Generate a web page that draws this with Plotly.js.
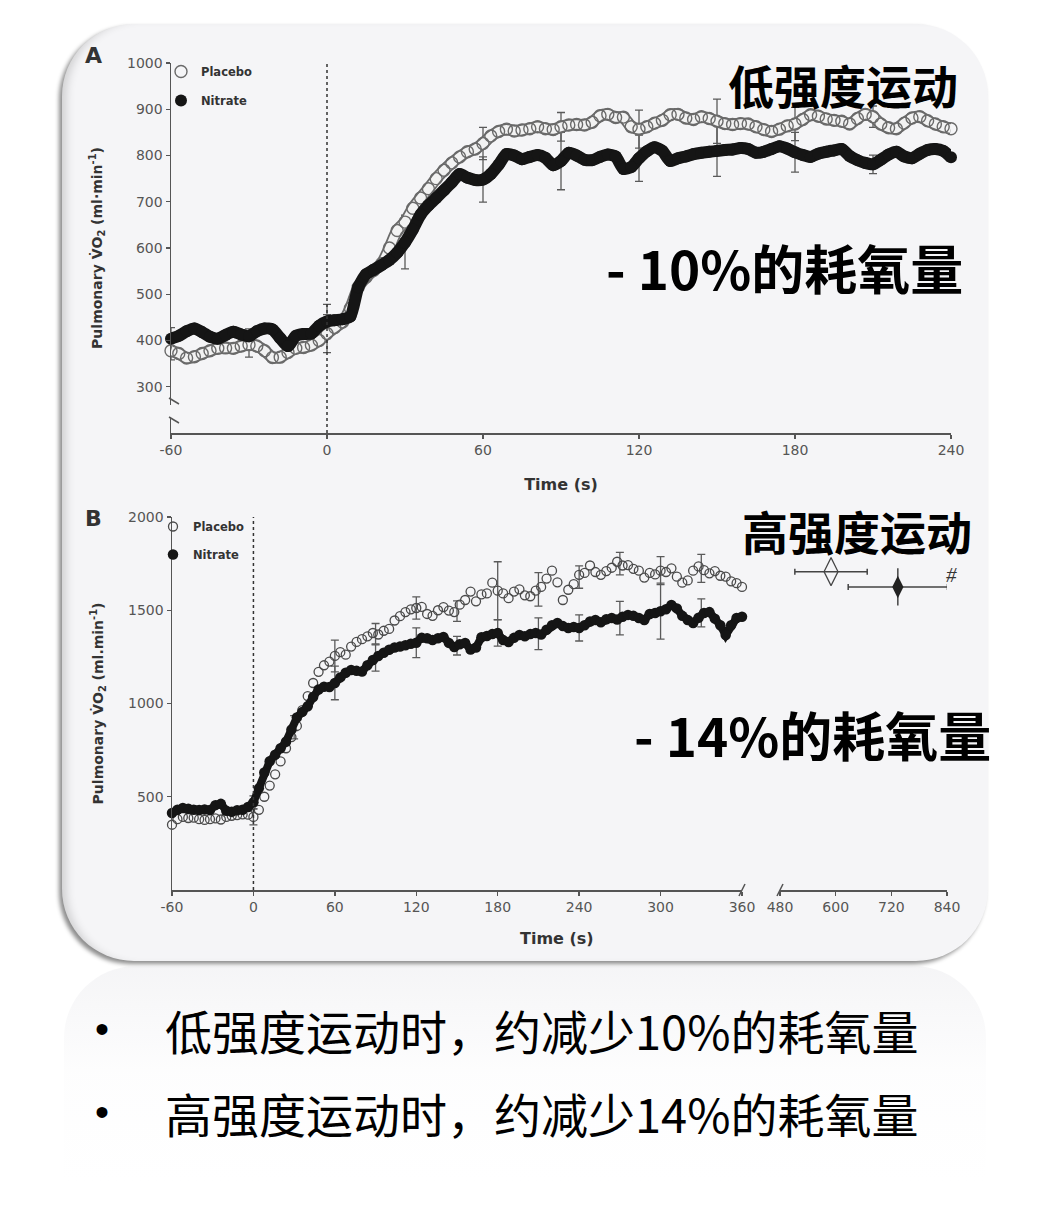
<!DOCTYPE html>
<html>
<head>
<meta charset="utf-8">
<script src="https://cdn.plot.ly/plotly-3.0.1.min.js"></script>
<style>
html,body{margin:0;padding:0;background:#ffffff;width:1038px;height:1207px;overflow:hidden;}
#card{position:absolute;left:62px;top:24px;width:926px;height:937px;border-radius:72px;background:#f5f5f7;
  box-shadow:-3px 3px 4px rgba(0,0,0,0.45), inset 10px 0 10px -6px rgba(0,0,0,0.16);}
#refl{position:absolute;left:64px;top:966px;width:922px;height:240px;border-radius:72px 72px 0 0;
  background:linear-gradient(to bottom, rgba(230,230,234,0.4), rgba(245,245,247,0.18) 45%, rgba(255,255,255,0) 90%);}
#chart{position:absolute;left:0;top:0;width:1038px;height:1207px;}
</style>
</head>
<body>
<div id="card"></div>
<div id="refl"></div>
<div id="chart"></div>
<script>
// ---------------- Panel A (low intensity): t = -60 ... 240 s, every 3 s ----------------
const timeStartA = -60, timeStepA = 3;
const placeboA = [
 378,372,362,365,372,378,383,384,383,388,
 391,388,378,363,364,374,383,385,390,400,
 415,428,440,470,515,537,552,566,600,638,
 656,686,708,728,750,768,784,797,808,814,
 826,842,852,857,853,855,858,862,858,856,
 862,866,867,866,872,886,889,882,883,862,
 857,862,870,876,888,889,881,878,884,880,
 874,869,867,869,868,862,856,852,857,864,
 868,878,888,885,879,876,874,868,880,889,
 884,868,860,858,870,881,884,875,868,862,
 858];
const nitrateA = [
 404,410,420,426,418,408,404,412,419,413,
 409,420,426,424,405,388,410,414,415,432,
 441,444,446,452,515,543,553,563,574,590,
 612,640,672,692,708,725,742,760,752,747,
 748,760,780,803,800,792,797,801,795,779,
 788,806,800,791,790,797,802,798,771,775,
 794,809,818,810,788,794,798,803,806,808,
 810,812,813,816,814,806,808,814,820,815,
 807,801,797,804,808,811,814,799,790,784,
 781,791,802,808,798,794,804,812,814,810,
 796];
const errTimesA   = [-60,-30,0,30,60,90,120,150,180,210];
const errPlaceboA = [20,27,41,15,35,31,41,48,36,23];
const errNitrateA = [24,16,37,57,49,62,50,55,43,20];
const xTicksA = [-60,0,60,120,180,240];
const yTicksA = [300,400,500,600,700,800,900,1000];

// ---------------- Panel B (high intensity): t = -60 ... 360 s, every 4 s ----------------
const timeStartB = -60, timeStepB = 4;
const placeboB = [
 350,380,392,386,388,380,376,380,384,378,
 392,398,402,405,404,392,430,500,560,620,
 690,760,820,880,965,1040,1110,1170,1205,1225,
 1255,1275,1262,1305,1330,1345,1360,1378,1370,1390,
 1400,1445,1468,1490,1505,1512,1518,1480,1470,1500,
 1517,1498,1490,1530,1555,1600,1548,1585,1590,1648,
 1605,1590,1565,1600,1612,1580,1575,1605,1625,1670,
 1712,1650,1555,1610,1640,1690,1700,1740,1705,1690,
 1710,1728,1760,1740,1742,1722,1712,1675,1700,1692,
 1712,1705,1725,1680,1648,1660,1712,1735,1715,1698,
 1710,1685,1680,1655,1645,1625];
const nitrateB = [
 413,430,440,436,430,429,432,429,455,462,
 425,420,428,430,445,470,545,630,690,725,
 760,795,860,925,955,985,1035,1075,1090,1088,
 1110,1140,1165,1180,1175,1172,1205,1233,1255,1272,
 1288,1300,1305,1312,1320,1326,1352,1350,1340,1350,
 1357,1325,1303,1318,1324,1290,1300,1355,1362,1372,
 1378,1340,1330,1352,1367,1360,1372,1378,1370,1395,
 1420,1432,1415,1405,1410,1405,1420,1440,1448,1435,
 1452,1458,1450,1465,1475,1470,1458,1448,1480,1485,
 1495,1505,1528,1510,1470,1448,1432,1460,1485,1490,
 1455,1420,1367,1420,1458,1465];
const errTimesB         = [0,30,60,90,120,150,180,210,240,270,300,330];
const errCenterPlaceboB = [392,850,1255,1374,1512,1495,1605,1612,1678,1750,1712,1725];
const errPlaceboB       = [43,40,85,55,60,55,155,90,60,60,75,75];
const errCenterNitrateB = [470,895,1110,1244,1326,1310,1378,1374,1405,1458,1495,1486];
const errNitrateB       = [35,40,90,70,80,50,70,85,70,90,150,75];
// end-exercise points (time to exhaustion, peak VO2)
const ttePlaceboTime = [590], ttePlaceboVO2 = [1707], ttePlaceboTimeErr = [78];
const tteNitrateTime = [734], tteNitrateVO2 = [1625], tteNitrateTimeErr = [107], tteNitrateVO2Err = [100];
const xTicksB  = [-60,0,60,120,180,240,300,360];
const xTicksB2 = [480,600,720,840];
const yTicksB  = [500,1000,1500,2000];

// ---------------- layout helpers ----------------
const W = 1038, H = 1207;
const fx = p => p / W;
const fy = p => 1 - p / H;
const GRAY = '#555';
const BASEFONT = 'DejaVu Sans, Arial, sans-serif';
const CJK = 'Noto Sans CJK SC, sans-serif';

const errStyle = (arr) => ({type:'data', array: arr, visible:true, color:'#5a5a5a', thickness:1.3, width:4});
const hidden = {size:1, opacity:0};

const traces = [
  // Panel A error bars
  {x: errTimesA, y: errTimesA.map(t => placeboA[(t - timeStartA) / timeStepA]), xaxis:'x', yaxis:'y',
   mode:'markers', marker:hidden, error_y: errStyle(errPlaceboA), showlegend:false, hoverinfo:'skip', cliponaxis:false},
  {x: errTimesA, y: errTimesA.map(t => nitrateA[(t - timeStartA) / timeStepA]), xaxis:'x', yaxis:'y',
   mode:'markers', marker:hidden, error_y: errStyle(errNitrateA), showlegend:false, hoverinfo:'skip', cliponaxis:false},
  // Panel A placebo: tube outline + rings
  {y: placeboA, x0: timeStartA, dx: timeStepA, xaxis:'x', yaxis:'y', mode:'lines',
   line:{color:'#6a6a6a', width:12, shape:'spline', smoothing:0.6}, showlegend:false, hoverinfo:'skip', cliponaxis:false},
  {y: placeboA, x0: timeStartA, dx: timeStepA, xaxis:'x', yaxis:'y', mode:'lines',
   line:{color:'#f2f2f2', width:8.5, shape:'spline', smoothing:0.6}, showlegend:false, hoverinfo:'skip', cliponaxis:false},
  {name:'Placebo', y: placeboA, x0: timeStartA, dx: timeStepA, xaxis:'x', yaxis:'y', type:'scatter', mode:'markers',
   marker:{symbol:'circle-open', size:12, color:'#6a6a6a', line:{width:1.4}}, legend:'legend', legendgroup:'pa', cliponaxis:false},
  // Panel A nitrate: thick band
  {y: nitrateA, x0: timeStartA, dx: timeStepA, xaxis:'x', yaxis:'y', mode:'lines',
   line:{color:'#151515', width:12, shape:'spline', smoothing:0.6}, showlegend:false, hoverinfo:'skip', cliponaxis:false},
  {name:'Nitrate', y: nitrateA, x0: timeStartA, dx: timeStepA, xaxis:'x', yaxis:'y', type:'scatter', mode:'markers',
   marker:{symbol:'circle', size:12, color:'#151515'}, legend:'legend', legendgroup:'na', cliponaxis:false},

  // Panel B error bars
  {x: errTimesB, y: errCenterPlaceboB, xaxis:'x2', yaxis:'y2', mode:'markers', marker:hidden,
   error_y: errStyle(errPlaceboB), showlegend:false, hoverinfo:'skip', cliponaxis:false},
  {x: errTimesB, y: errCenterNitrateB, xaxis:'x2', yaxis:'y2', mode:'markers', marker:hidden,
   error_y: errStyle(errNitrateB), showlegend:false, hoverinfo:'skip', cliponaxis:false},
  // Panel B series
  {name:'Placebo', y: placeboB, x0: timeStartB, dx: timeStepB, xaxis:'x2', yaxis:'y2', type:'scatter', mode:'markers',
   marker:{symbol:'circle-open', size:9, color:'#4a4a4a', line:{width:1.3}}, legend:'legend2', legendgroup:'pb', cliponaxis:false},
  {y: nitrateB, x0: timeStartB, dx: timeStepB, xaxis:'x2', yaxis:'y2', mode:'lines',
   line:{color:'#151515', width:8}, showlegend:false, hoverinfo:'skip', cliponaxis:false},
  {name:'Nitrate', y: nitrateB, x0: timeStartB, dx: timeStepB, xaxis:'x2', yaxis:'y2', type:'scatter', mode:'markers',
   marker:{symbol:'circle', size:10.5, color:'#151515'}, legend:'legend2', legendgroup:'nb', cliponaxis:false},
  // Panel B end points
  {x: ttePlaceboTime, y: ttePlaceboVO2, xaxis:'x3', yaxis:'y2', mode:'markers',
   marker:{symbol:'diamond-tall-open', size:20, color:'#444', line:{width:1.2}},
   error_x:{type:'data', array: ttePlaceboTimeErr, visible:true, color:'#444', thickness:1.5, width:3},
   showlegend:false, cliponaxis:false},
  {x: tteNitrateTime, y: tteNitrateVO2, xaxis:'x3', yaxis:'y2', mode:'markers',
   marker:{symbol:'diamond-tall', size:16, color:'#222'},
   error_x:{type:'data', array: tteNitrateTimeErr, visible:true, color:'#444', thickness:1.5, width:3},
   error_y:{type:'data', array: tteNitrateVO2Err, visible:true, color:'#444', thickness:1.5, width:0},
   showlegend:false, cliponaxis:false}
];

const axisCommon = {
  showgrid:false, zeroline:false, showline:true, linecolor:GRAY, linewidth:1.5,
  ticks:'outside', ticklen:4, tickwidth:1.3, tickcolor:GRAY,
  tickfont:{family:BASEFONT, size:14, color:GRAY}, fixedrange:true
};
const titleFontY = {family:BASEFONT, size:14, weight:'bold', color:'#333'};
const titleFontX = {family:BASEFONT, size:16, weight:'bold', color:'#333'};
const yTitleText = 'Pulmonary V\u0307O<sub>2</sub> (ml\u00b7min<sup>-1</sup>)';
const yTitleTextB = 'Pulmonary V\u0307O<sub>2</sub> (ml.min<sup>-1</sup>)';

function note(text, x, y, font, xanchor) {
  return {text:text, x:fx(x), y:fy(y), xref:'paper', yref:'paper', showarrow:false,
          xanchor: xanchor || 'center', yanchor:'middle', font:font};
}
const cjkBold = (s) => ({family:CJK, size:s, weight:700, color:'#000'});
const cjkReg  = (s) => ({family:CJK, size:s, weight:400, color:'#000'});

const layout = {
  width: W, height: H,
  margin:{l:0, r:0, t:0, b:0},
  paper_bgcolor:'rgba(0,0,0,0)', plot_bgcolor:'rgba(0,0,0,0)',
  font:{family:BASEFONT, color:GRAY},
  showlegend:true,
  xaxis: Object.assign({}, axisCommon, {domain:[fx(171), fx(951)], range:[-60,240], anchor:'y',
     tickvals:xTicksA, ticktext:xTicksA.map(String),
     title:{text:'Time (s)', font:titleFontX, standoff:21}}),
  yaxis: Object.assign({}, axisCommon, {domain:[fy(433), fy(63)], range:[200,1000], anchor:'x',
     tickvals:yTicksA, ticktext:yTicksA.map(String),
     title:{text:yTitleText, font:titleFontY, standoff:21}}),
  xaxis2: Object.assign({}, axisCommon, {domain:[fx(172), fx(742)], range:[-60,360], anchor:'y2',
     tickvals:xTicksB, ticktext:xTicksB.map(String)}),
  xaxis3: Object.assign({}, axisCommon, {domain:[fx(780), fx(947)], range:[480,840], anchor:'y2',
     tickvals:xTicksB2, ticktext:xTicksB2.map(String)}),
  yaxis2: Object.assign({}, axisCommon, {domain:[fy(890), fy(517)], range:[0,2000], anchor:'x2',
     tickvals:yTicksB, ticktext:yTicksB.map(String),
     title:{text:yTitleTextB, font:titleFontY, standoff:21}}),
  legend:{x:fx(161), y:fy(57), xanchor:'left', yanchor:'top', bgcolor:'rgba(0,0,0,0)', borderwidth:0,
     font:{family:BASEFONT, size:11.5, weight:'bold', color:'#333'}, tracegroupgap:10, traceorder:'grouped'},
  legend2:{x:fx(153), y:fy(512), xanchor:'left', yanchor:'top', bgcolor:'rgba(0,0,0,0)', borderwidth:0,
     font:{family:BASEFONT, size:11.5, weight:'bold', color:'#333'}, tracegroupgap:9, traceorder:'grouped'},
  shapes:[
    {type:'line', xref:'x', yref:'y', x0:0, x1:0, y0:200, y1:1000, line:{color:'#333', width:1.5, dash:'dot'}},
    {type:'line', xref:'x2', yref:'y2', x0:0, x1:0, y0:0, y1:2000, line:{color:'#333', width:1.5, dash:'dot'}},
    // y-axis break (panel A)
    {type:'rect', xref:'paper', yref:'paper', x0:fx(167), x1:fx(175), y0:fy(417), y1:fy(405), fillcolor:'#f5f5f7', line:{width:0}, layer:'above'},
    {type:'line', xref:'paper', yref:'paper', x0:fx(169), x1:fx(179), y0:fy(398), y1:fy(404), line:{color:GRAY, width:1.5}, layer:'above'},
    {type:'line', xref:'paper', yref:'paper', x0:fx(169), x1:fx(179), y0:fy(417), y1:fy(423), line:{color:GRAY, width:1.5}, layer:'above'},
    // x-axis break (panel B)
    {type:'line', xref:'paper', yref:'paper', x0:fx(739), x1:fx(745), y0:fy(896), y1:fy(884), line:{color:GRAY, width:1.5}},
    {type:'line', xref:'paper', yref:'paper', x0:fx(777), x1:fx(783), y0:fy(896), y1:fy(884), line:{color:GRAY, width:1.5}}
  ],
  annotations:[
    note('A', 93, 55, {family:BASEFONT, size:22, weight:'bold', color:'#333'}),
    note('B', 93, 519, {family:BASEFONT, size:22, weight:'bold', color:'#333'}),
    note('Time (s)', 557, 938, titleFontX),
    note('#', 951, 575, {family:'Liberation Serif, serif', size:21, style:'italic', color:'#333'}),
    note('低强度运动', 843, 84, cjkBold(46)),
    note('- 10%的耗氧量', 784, 267, cjkBold(53)),
    note('高强度运动', 857, 530, cjkBold(46)),
    note('- 14%的耗氧量', 812, 734, cjkBold(53)),
    note('•', 102, 1029, {family:'Liberation Sans, Arial, sans-serif', size:40, color:'#000'}),
    note('低强度运动时，约减少10%的耗氧量', 163, 1029, cjkReg(47), 'left'),
    note('•', 102, 1112, {family:'Liberation Sans, Arial, sans-serif', size:40, color:'#000'}),
    note('高强度运动时，约减少14%的耗氧量', 163, 1112, cjkReg(47), 'left')
  ]
};

Plotly.newPlot('chart', traces, layout, {displayModeBar:false, staticPlot:true});
</script>
</body>
</html>
